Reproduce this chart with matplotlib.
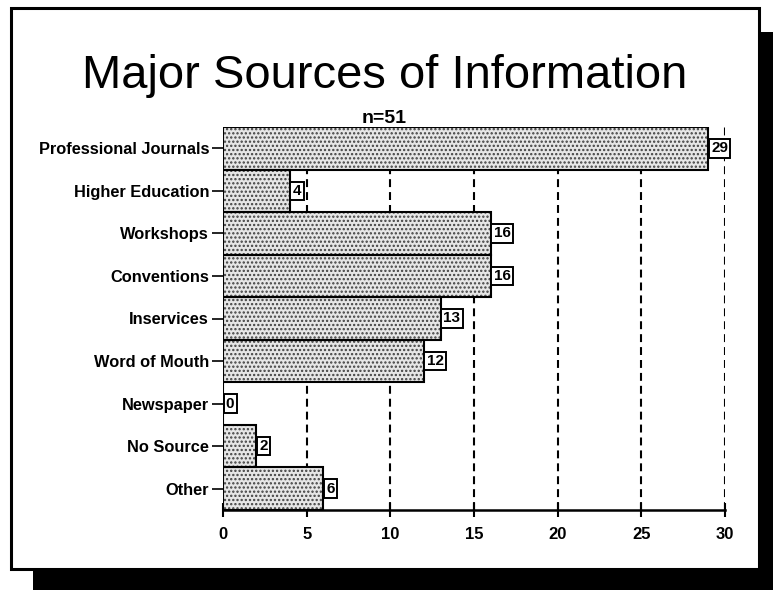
import matplotlib
matplotlib.use("Agg")
import matplotlib.pyplot as plt
from matplotlib.patches import Rectangle
from matplotlib import font_manager

categories = ["Professional Journals", "Higher Education", "Workshops", "Conventions",
              "Inservices", "Word of Mouth", "Newspaper", "No Source", "Other"]
values = [29, 4, 16, 16, 13, 12, 0, 2, 6]
xticks = [0, 5, 10, 15, 20, 25, 30]
title = "Major Sources of Information"
subtitle = "n=51"

plt.rcParams['font.family'] = ['Liberation Sans', 'DejaVu Sans']
plt.rcParams['hatch.linewidth'] = 1.1
W, H = 773, 590
fig = plt.figure(figsize=(W / 100, H / 100), dpi=100)
fig.patch.set_facecolor("white")

def fx(px):
    return px / W

def fy(py):
    return 1 - py / H

# shadow and frame
fig.patches.append(Rectangle((fx(33), fy(590)), fx(773) - fx(33), fy(569) - fy(590),
                             transform=fig.transFigure, facecolor="black", edgecolor="none", zorder=0))
fig.patches.append(Rectangle((fx(759), fy(590)), fx(773) - fx(759), fy(32) - fy(590),
                             transform=fig.transFigure, facecolor="black", edgecolor="none", zorder=0))
fig.patches.append(Rectangle((fx(11), fy(569)), fx(759) - fx(11), fy(8) - fy(569),
                             transform=fig.transFigure, facecolor="white", edgecolor="black",
                             linewidth=2.2, zorder=1))

ax = fig.add_axes([fx(223), fy(510), fx(725) - fx(223), fy(127) - fy(510)])
ax.set_zorder(2)
ax.patch.set_alpha(0)

y = list(range(len(categories)))
ax.barh(y, values, height=1.0, color="#e6e6e6", edgecolor="#404040", hatch="....",
        linewidth=0, zorder=2)
ax.barh(y, values, height=1.0, color="none", edgecolor="black", linewidth=1.5, zorder=3)

ax.set_xlim(0, 30)
ax.set_ylim(len(categories) - 0.5, -0.5)
ax.set_xticks(xticks)
ax.set_xticklabels([str(t) for t in xticks], fontsize=12, fontweight="bold")
ax.set_yticks(y)
ax.set_yticklabels(categories, fontsize=11.8, fontweight="bold")
ax.tick_params(axis="y", length=8, width=1.2, pad=2)
ax.tick_params(axis="x", length=10, width=1.5, direction="inout", pad=7)

for t in xticks[1:]:
    ax.axvline(t, color="black", linestyle=(0, (3.8, 2.4)), linewidth=1.5, zorder=1)

for s in ["top", "right", "left"]:
    ax.spines[s].set_visible(False)
ax.spines["bottom"].set_linewidth(1.8)
ax.spines["bottom"].set_zorder(4)

for yi, v in zip(y, values):
    ax.text(v + 0.17, yi, str(v), ha="left", va="center", fontsize=11, fontweight="bold",
            zorder=5,
            bbox=dict(boxstyle="square,pad=0.15", facecolor="white", edgecolor="black",
                      linewidth=1.4))

# title: prefer a narrow Helvetica-like face, fit to the reference width
title_family = ['Liberation Sans', 'DejaVu Sans']
try:
    font_manager.findfont(font_manager.FontProperties(family='Liberation Sans Narrow'),
                          fallback_to_default=False)
    title_family = ['Liberation Sans Narrow', 'Liberation Sans', 'DejaVu Sans']
except Exception:
    pass

t = fig.text(fx(385), fy(88), title, ha="center", va="baseline", fontsize=36,
             family=title_family)
fig.canvas.draw()
r = fig.canvas.get_renderer()
wpx = t.get_window_extent(renderer=r).width
t.set_fontsize(36 * 606 / wpx)

fig.text(fx(384), fy(123), subtitle, ha="center", va="baseline", fontsize=14, fontweight="bold")

fig.savefig("out.png", dpi=100)
